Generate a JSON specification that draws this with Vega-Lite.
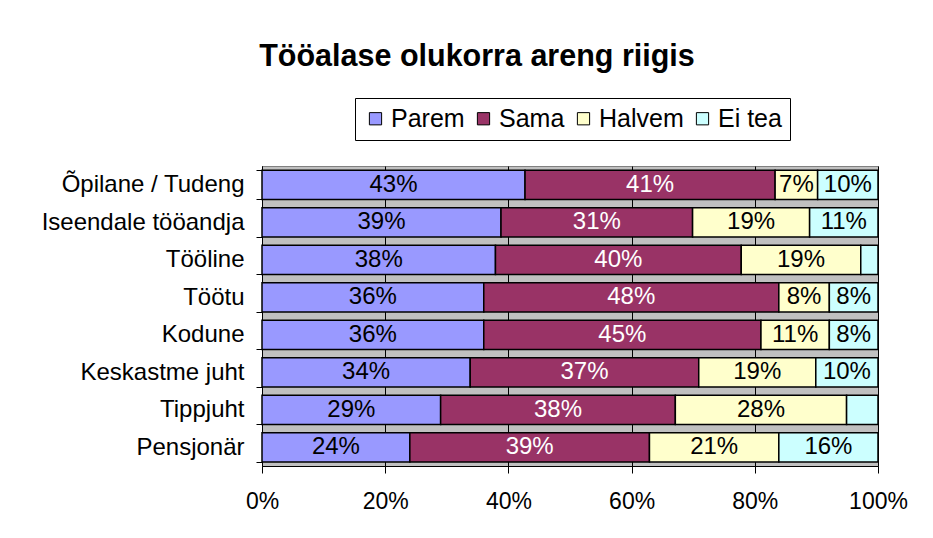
{
  "$schema": "https://vega.github.io/schema/vega-lite/v6.json",
  "width": 616,
  "height": 300,
  "autosize": {"type": "none"},
  "padding": {"left": 262, "top": 166, "right": 55, "bottom": 72},
  "background": "white",
  "title": {
    "text": "Tööalase olukorra areng riigis",
    "font": "Liberation Sans",
    "fontSize": 30.5,
    "fontWeight": "bold",
    "color": "black",
    "anchor": "middle",
    "dx": -93,
    "offset": 25
  },
  "data": {
    "values": [
      {"kategooria": "Õpilane / Tudeng", "hinnang": "Parem", "jrk": 1, "value": 42.7},
      {"kategooria": "Õpilane / Tudeng", "hinnang": "Sama", "jrk": 2, "value": 40.6},
      {"kategooria": "Õpilane / Tudeng", "hinnang": "Halvem", "jrk": 3, "value": 6.9},
      {"kategooria": "Õpilane / Tudeng", "hinnang": "Ei tea", "jrk": 4, "value": 9.8},
      {"kategooria": "Iseendale tööandja", "hinnang": "Parem", "jrk": 1, "value": 38.8},
      {"kategooria": "Iseendale tööandja", "hinnang": "Sama", "jrk": 2, "value": 31.1},
      {"kategooria": "Iseendale tööandja", "hinnang": "Halvem", "jrk": 3, "value": 19.0},
      {"kategooria": "Iseendale tööandja", "hinnang": "Ei tea", "jrk": 4, "value": 11.1},
      {"kategooria": "Tööline", "hinnang": "Parem", "jrk": 1, "value": 37.9},
      {"kategooria": "Tööline", "hinnang": "Sama", "jrk": 2, "value": 39.9},
      {"kategooria": "Tööline", "hinnang": "Halvem", "jrk": 3, "value": 19.4},
      {"kategooria": "Tööline", "hinnang": "Ei tea", "jrk": 4, "value": 2.8},
      {"kategooria": "Töötu", "hinnang": "Parem", "jrk": 1, "value": 36.0},
      {"kategooria": "Töötu", "hinnang": "Sama", "jrk": 2, "value": 47.9},
      {"kategooria": "Töötu", "hinnang": "Halvem", "jrk": 3, "value": 8.2},
      {"kategooria": "Töötu", "hinnang": "Ei tea", "jrk": 4, "value": 7.9},
      {"kategooria": "Kodune", "hinnang": "Parem", "jrk": 1, "value": 36.0},
      {"kategooria": "Kodune", "hinnang": "Sama", "jrk": 2, "value": 45.0},
      {"kategooria": "Kodune", "hinnang": "Halvem", "jrk": 3, "value": 11.1},
      {"kategooria": "Kodune", "hinnang": "Ei tea", "jrk": 4, "value": 7.9},
      {"kategooria": "Keskastme juht", "hinnang": "Parem", "jrk": 1, "value": 33.8},
      {"kategooria": "Keskastme juht", "hinnang": "Sama", "jrk": 2, "value": 37.1},
      {"kategooria": "Keskastme juht", "hinnang": "Halvem", "jrk": 3, "value": 19.0},
      {"kategooria": "Keskastme juht", "hinnang": "Ei tea", "jrk": 4, "value": 10.1},
      {"kategooria": "Tippjuht", "hinnang": "Parem", "jrk": 1, "value": 29.0},
      {"kategooria": "Tippjuht", "hinnang": "Sama", "jrk": 2, "value": 38.1},
      {"kategooria": "Tippjuht", "hinnang": "Halvem", "jrk": 3, "value": 27.8},
      {"kategooria": "Tippjuht", "hinnang": "Ei tea", "jrk": 4, "value": 5.1},
      {"kategooria": "Pensjonär", "hinnang": "Parem", "jrk": 1, "value": 24.0},
      {"kategooria": "Pensjonär", "hinnang": "Sama", "jrk": 2, "value": 38.9},
      {"kategooria": "Pensjonär", "hinnang": "Halvem", "jrk": 3, "value": 21.0},
      {"kategooria": "Pensjonär", "hinnang": "Ei tea", "jrk": 4, "value": 16.1}
    ]
  },
  "transform": [
    {"stack": "value", "groupby": ["kategooria"], "sort": [{"field": "jrk", "order": "ascending"}], "as": ["v0", "v1"]},
    {"calculate": "(datum.v0 + datum.v1) / 2", "as": "vmid"},
    {"calculate": "format(datum.value, '.0f') + '%'", "as": "silt"}
  ],
  "encoding": {
    "y": {
      "field": "kategooria",
      "type": "nominal",
      "sort": ["Õpilane / Tudeng", "Iseendale tööandja", "Tööline", "Töötu", "Kodune", "Keskastme juht", "Tippjuht", "Pensjonär"],
      "scale": {"paddingInner": 0.22, "paddingOuter": 0.11},
      "axis": {
        "title": null,
        "labelFont": "Liberation Sans",
        "labelFontSize": 24,
        "labelColor": "black",
        "labelPadding": 12,
        "labelLimit": 300,
        "tickBand": "extent",
        "tickColor": "black",
        "tickSize": 6,
        "domainColor": "black",
        "domainWidth": 1,
        "grid": false
      }
    }
  },
  "layer": [
    {
      "mark": {"type": "bar", "stroke": "black", "strokeWidth": 1.5, "opacity": 1},
      "encoding": {
        "x": {
          "field": "v0",
          "type": "quantitative",
          "scale": {"domain": [0, 100], "nice": false},
          "axis": {
            "title": null,
            "values": [0, 20, 40, 60, 80, 100],
            "labelExpr": "datum.value + '%'",
            "labelFont": "Liberation Sans",
            "labelFontSize": 23,
            "labelColor": "black",
            "labelPadding": 17,
            "labelFlush": false,
            "tickColor": "black",
            "tickSize": 7,
            "domainColor": "black",
            "grid": true,
            "gridColor": "black",
            "gridWidth": 1,
            "gridOpacity": 1
          }
        },
        "x2": {"field": "v1"},
        "color": {
          "field": "hinnang",
          "type": "nominal",
          "scale": {"domain": ["Parem", "Sama", "Halvem", "Ei tea"], "range": ["#9999FF", "#993366", "#FFFFCC", "#CCFFFF"]},
          "legend": {
            "orient": "none",
            "legendX": 93,
            "legendY": -68,
            "direction": "horizontal",
            "columns": 4,
            "title": null,
            "labelFont": "Liberation Sans",
            "labelFontSize": 25,
            "labelColor": "black",
            "labelOffset": 3,
            "symbolType": "square",
            "symbolSize": 150,
            "symbolStrokeColor": "black",
            "symbolStrokeWidth": 1,
            "symbolOpacity": 1,
            "strokeColor": "black",
            "fillColor": "white",
            "padding": 8,
            "columnPadding": 6
          }
        }
      }
    },
    {
      "transform": [{"filter": "datum.value >= 6"}],
      "mark": {"type": "text", "font": "Liberation Sans", "fontSize": 24, "baseline": "middle", "align": "center"},
      "encoding": {
        "x": {"field": "vmid", "type": "quantitative"},
        "text": {"field": "silt", "type": "nominal"},
        "color": {"condition": {"test": "datum.hinnang === 'Sama'", "value": "white"}, "value": "black"}
      }
    }
  ],
  "config": {
    "view": {"fill": "#C0C0C0", "stroke": "#808080", "strokeWidth": 1}
  }
}
